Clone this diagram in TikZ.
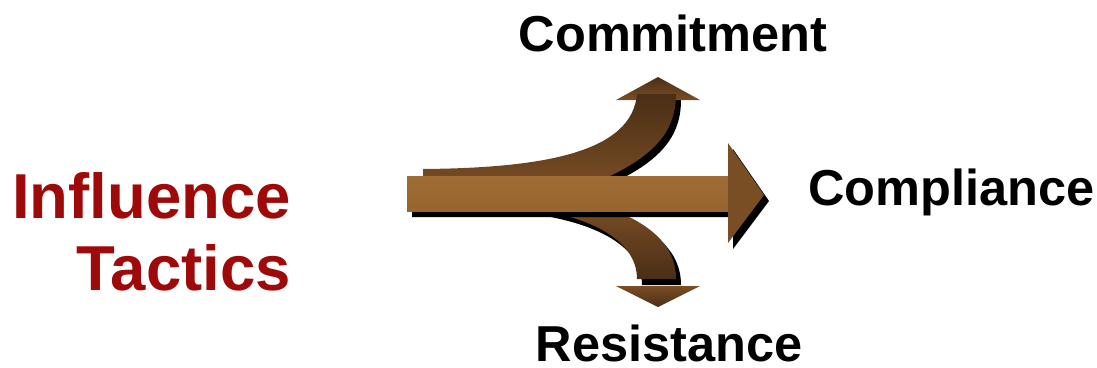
\documentclass[tikz,border=0pt]{standalone}
\usepackage{fontspec}
\setmainfont{Liberation Sans}
\usepackage{tikz}
\usetikzlibrary{positioning}
\definecolor{brown800}{HTML}{4A2E15}
\definecolor{brown600}{HTML}{7A4E25}
\definecolor{brown500}{HTML}{98652F}
\definecolor{brown400}{HTML}{A06C36}
\definecolor{red800}  {HTML}{9E0A0A}
\tikzset{
  lbl/.style  ={font=\fontsize{50.5}{60}\selectfont\bfseries, inner sep=0pt},
  lblr/.style ={font=\fontsize{63.5}{72}\selectfont\bfseries, text=red800,
                align=right, inner sep=0pt},
  shade/.style={fill=black},
  band/.style ={top color=brown800, middle color=brown400,
                bottom color=brown600},
  bandd/.style={top color=brown600, middle color=brown400,
                bottom color=brown800},
  shaft/.style={top color=brown400, bottom color=brown500},
  tip/.style  ={top color=brown600, middle color=brown400,
                bottom color=brown600}
}
\begin{document}
\begin{tikzpicture}[x=1pt,y=-1pt]
\useasboundingbox (0,0) rectangle (1097,367);
% upper branch
\path[shade, shift={(5,6)}] (423,169) .. controls (545,168) and (632,152) .. (637,94)
  -- (676,94) .. controls (676,135) and (650,160) .. (590,185) -- (423,190) -- cycle;
\path[band] (616,100) -- (658,77) -- (700,100) -- cycle;
\path[band] (423,169) .. controls (545,168) and (632,152) .. (637,94)
  -- (676,94) .. controls (676,135) and (650,160) .. (590,185) -- (423,190) -- cycle;
% lower branch
\path[shade, shift={(5,6)}] (500,205) .. controls (590,212) and (637,240) .. (637,279)
  -- (676,279) .. controls (676,245) and (650,222) .. (600,205) -- cycle;
\path[bandd] (616,286) -- (658,307) -- (700,286) -- cycle;
\path[bandd] (500,205) .. controls (590,212) and (637,240) .. (637,279)
  -- (676,279) .. controls (676,245) and (650,222) .. (600,205) -- cycle;
% main arrow
\path[shade, shift={(5,6)}] (407,176) -- (728,176) -- (728,143) -- (764,195)
  -- (728,243) -- (728,211) -- (407,211) -- cycle;
\path[shaft] (407,176) rectangle (728,211);
\path[tip] (728,143) -- (764,195) -- (728,243) -- cycle;

\node[lbl] (commit) at (673,33) {Commitment};
\node[lbl, anchor=west] (comply) at (808,192) {Compliance};
\node[lbl] (resist) at (669,343) {Resistance};
\node[lblr, anchor=east] (infl) at (291,232) {Influence\\Tactics};
\end{tikzpicture}
\end{document}
